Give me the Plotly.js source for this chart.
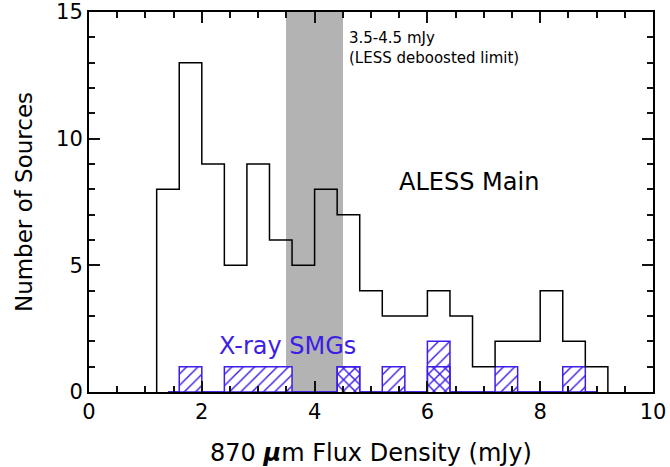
<!DOCTYPE html>
<html><head><meta charset="utf-8">
<script src="https://cdn.plot.ly/plotly-3.0.1.min.js"></script>
<style>html,body{margin:0;padding:0;background:#fff}</style>
</head><body><div id="chart" style="width:670px;height:467px"></div>
<script>
// ---- data ----
const binEdges = [1.2,1.6,2.0,2.4,2.8,3.2,3.6,4.0,4.4,4.8,5.2,5.6,6.0,6.4,6.8,7.2,7.6,8.0,8.4,8.8,9.2];
const alessCounts = [8,13,9,5,9,6,5,8,7,4,3,3,4,3,1,2,2,4,2,1];
const xraySlashCounts = [0,1,0,1,1,1,0,0,1,0,1,0,2,0,0,1,0,0,1,0];
const xrayCrossCounts = [0,0,0,0,0,0,0,0,1,0,0,0,1,0,0,0,0,0,0,0];
const xrayBaseline = [1.4, 9.0];
const limitBand = [3.5, 4.5];
const xTickVals = [0,2,4,6,8,10];
const yTickVals = [0,5,10,15];

const BLUE = '#3c1ee6';
const TICK = '#111111';
const FONT = 'DejaVu Sans, Liberation Sans, sans-serif';

function stepLine(edges, counts, clip){
  const xs=[edges[0]], ys=[0];
  for(let i=0;i<counts.length;i++){
    xs.push(edges[i], edges[i+1]); ys.push(counts[i], counts[i]);
  }
  xs.push(edges[edges.length-1]); ys.push(0);
  const cx = clip ? xs.map(v=>Math.min(Math.max(v,clip[0]),clip[1])) : xs;
  return {x:cx, y:ys};
}
const centers = alessCounts.map((_,i)=>(binEdges[i]+binEdges[i+1])/2);
const widths = alessCounts.map((_,i)=>binEdges[i+1]-binEdges[i]);

const alessStep = stepLine(binEdges, alessCounts);
const slashStep = stepLine(binEdges, xraySlashCounts, xrayBaseline);
const crossStep = stepLine(binEdges, xrayCrossCounts, xrayBaseline);
const yTop = yTickVals[yTickVals.length-1], yBot = yTickVals[0];

const traces = [
  {type:'bar', x:[(limitBand[0]+limitBand[1])/2], y:[yTop-yBot], base:yBot,
   width:[limitBand[1]-limitBand[0]], marker:{color:'#b3b3b3', line:{width:0}},
   showlegend:false, hoverinfo:'skip'},
  {type:'bar', x:centers, y:xraySlashCounts, width:widths, base:0,
   marker:{color:BLUE, line:{width:0},
     pattern:{shape:'/', fgcolor:BLUE, bgcolor:'white', size:8, solidity:0.18, fillmode:'replace'}},
   hoverinfo:'skip', showlegend:false},
  {type:'bar', x:centers, y:xrayCrossCounts, width:widths, base:0,
   marker:{color:BLUE, line:{width:0},
     pattern:{shape:'\\', fgcolor:BLUE, bgcolor:'rgba(0,0,0,0)', size:8, solidity:0.18, fillmode:'replace'}},
   hoverinfo:'skip', showlegend:false},
  {type:'scatter', mode:'lines', x:slashStep.x, y:slashStep.y,
   line:{color:BLUE, width:1.5}, showlegend:false, hoverinfo:'skip'},
  {type:'scatter', mode:'lines', x:crossStep.x, y:crossStep.y,
   line:{color:BLUE, width:1.5}, showlegend:false, hoverinfo:'skip'},
  {type:'scatter', mode:'lines', x:alessStep.x, y:alessStep.y,
   line:{color:'black', width:1.5}, showlegend:false, hoverinfo:'skip'}
];

function axisBase(vals, minorStep){
  return {
    range:[vals[0], vals[vals.length-1]],
    tickmode:'linear', tick0:vals[0], dtick:vals[1]-vals[0],
    ticks:'inside', ticklen:11, tickwidth:2, tickcolor:TICK,
    minor:{dtick:minorStep, ticks:'inside', ticklen:6, tickwidth:2, tickcolor:TICK},
    showline:true, linecolor:'black', linewidth:2, mirror:'allticks',
    layer:'above traces',
    showgrid:false, zeroline:false,
    tickfont:{family:FONT, size:21, color:'black'}
  };
}

const layout = {
  width:670, height:467,
  margin:{l:89, r:17, t:12, b:75},
  barmode:'overlay', bargap:0,
  showlegend:false,
  xaxis:Object.assign(axisBase(xTickVals, 0.5), {
    title:{text:'870 <b><i>μ</i></b>m Flux Density (mJy)', font:{family:FONT, size:24, color:'black'}}}),
  yaxis:Object.assign(axisBase(yTickVals, 1), {
    title:{text:'Number of Sources', font:{family:FONT, size:23, color:'black'}}}),
  annotations:[
    {x:6.74, y:8.3, xref:'x', yref:'y', text:'ALESS Main', showarrow:false,
     font:{family:FONT, size:24, color:'black'}},
    {x:3.52, y:1.81, xref:'x', yref:'y', text:'X-ray SMGs', showarrow:false,
     font:{family:FONT, size:24, color:BLUE}},
    {x:4.575, y:13.59, xref:'x', yref:'y', xanchor:'left', yanchor:'middle', align:'left',
     text:'3.5-4.5 mJy<br>(LESS deboosted limit)', showarrow:false,
     font:{family:FONT, size:15, color:'black'}}
  ]
};
Plotly.newPlot('chart', traces, layout, {staticPlot:true, displayModeBar:false});
</script></body></html>
